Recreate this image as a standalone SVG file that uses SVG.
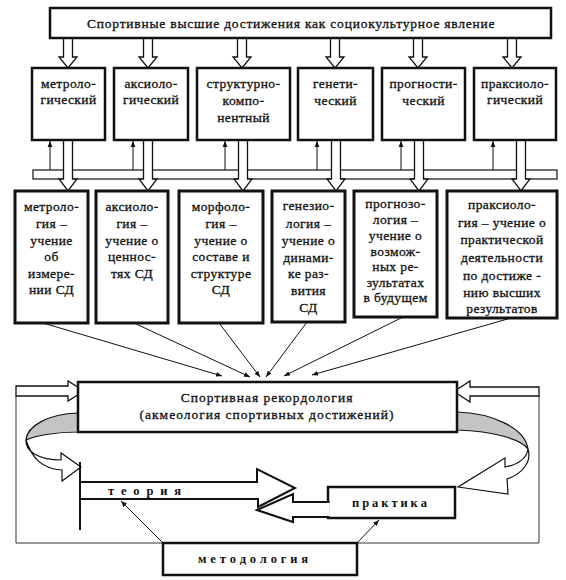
<svg xmlns="http://www.w3.org/2000/svg" width="566" height="580" viewBox="0 0 566 580">
<defs>
<style>
text{font-family:"Liberation Serif","Times New Roman",serif;fill:#111;}
.t{font-size:13.5px;letter-spacing:0.4px;text-anchor:middle;dominant-baseline:central;stroke:#111;stroke-width:0.3px;}
.b{font-weight:bold;font-size:12.5px;dominant-baseline:central;}
.box{fill:#fff;stroke:#111;stroke-width:2.5;}
.box2{fill:#fff;stroke:#111;stroke-width:3;}
.hollow{fill:#fff;stroke:#111;stroke-width:1.3;}
.thin{fill:none;stroke:#111;stroke-width:1;}
.frame{fill:none;stroke:#333;stroke-width:1;}
.big{fill:#fff;stroke:#111;stroke-width:2;}
.rib{fill:#fff;stroke:#111;stroke-width:1.2;}
.gray{fill:#c4c4c4;stroke:#111;stroke-width:1.2;}
</style>
<marker id="ah" viewBox="0 0 10 10" refX="10" refY="5" markerWidth="6" markerHeight="6" orient="auto" markerUnits="userSpaceOnUse">
<path d="M0,1 L10,5 L0,9 Z" fill="#111"/>
</marker>
</defs>

<g id="connectors">
  <path class="hollow" d="M63.5,38 V57 H59 L68,68 L77,57 H72.5 V38 Z"/>
  <path class="hollow" d="M143.5,38 V57 H139 L148,68 L157,57 H152.5 V38 Z"/>
  <path class="hollow" d="M237.5,38 V57 H233 L242,68 L251,57 H246.5 V38 Z"/>
  <path class="hollow" d="M330.5,38 V57 H326 L335,68 L344,57 H339.5 V38 Z"/>
  <path class="hollow" d="M413.5,38 V57 H409 L418,68 L427,57 H422.5 V38 Z"/>
  <path class="hollow" d="M507.5,38 V57 H503 L512,68 L521,57 H516.5 V38 Z"/>
  <rect x="33" y="170" width="524" height="9" fill="#fff" stroke="#111" stroke-width="1.2"/>
  <line class="thin" x1="50" y1="170" x2="50" y2="141" marker-end="url(#ah)"/>
  <line class="thin" x1="133" y1="170" x2="133" y2="141" marker-end="url(#ah)"/>
  <line class="thin" x1="225" y1="170" x2="225" y2="141" marker-end="url(#ah)"/>
  <line class="thin" x1="317" y1="170" x2="317" y2="141" marker-end="url(#ah)"/>
  <line class="thin" x1="401" y1="170" x2="401" y2="141" marker-end="url(#ah)"/>
  <line class="thin" x1="493" y1="170" x2="493" y2="141" marker-end="url(#ah)"/>
  <path class="hollow" d="M63.5,140 V179 H59 L68,191 L77,179 H72.5 V140 Z"/>
  <path class="hollow" d="M143.5,140 V179 H139 L148,191 L157,179 H152.5 V140 Z"/>
  <path class="hollow" d="M238.5,140 V179 H234 L243,191 L252,179 H247.5 V140 Z"/>
  <path class="hollow" d="M331.5,140 V179 H327 L336,191 L345,179 H340.5 V140 Z"/>
  <path class="hollow" d="M414.5,140 V179 H410 L419,191 L428,179 H423.5 V140 Z"/>
  <path class="hollow" d="M516.5,140 V179 H512 L521,191 L530,179 H525.5 V140 Z"/>
  <line class="thin" x1="43" y1="323" x2="222" y2="376" marker-end="url(#ah)"/>
  <line class="thin" x1="134" y1="323" x2="250" y2="377" marker-end="url(#ah)"/>
  <line class="thin" x1="219" y1="323" x2="260" y2="377" marker-end="url(#ah)"/>
  <line class="thin" x1="307" y1="322" x2="266" y2="377" marker-end="url(#ah)"/>
  <line class="thin" x1="403" y1="317" x2="284" y2="376" marker-end="url(#ah)"/>
  <line class="thin" x1="511" y1="318" x2="312" y2="375" marker-end="url(#ah)"/>
  <path class="frame" d="M16,396 V543 H539 V396"/>
  <path class="hollow" d="M16,386 H68 V381 L84,391 L68,401 V396 H16 Z"/>
  <path class="hollow" d="M539,387 H470 V381 L454,391.5 L470,402 V396 H539 Z"/>
  <path class="gray" d="M78,413 C48,414 27,426 26,440 C34,436 55,432 78,432 Z"/>
  <path class="rib" d="M26,440 C25,452 40,460 61,460 L61,453 L81,467 L62,481 L62,470 C42,469 32,458 26,440 Z"/>
  <path class="gray" d="M457,412 C490,413 525,427 528,449 C522,440 495,431 457,430 Z"/>
  <path class="rib" d="M528,449 C527,458 518,465 505,467 L505,458 L458,487 L508,494 L507,479 C522,474 532,462 528,449 Z"/>
  <line class="thin" x1="163" y1="543" x2="121" y2="501" marker-end="url(#ah)"/>
  <line class="thin" x1="357" y1="543" x2="379" y2="520" marker-end="url(#ah)"/>
</g>

<g id="top">
  <rect class="box" x="50" y="8" width="501" height="30"/>
  <text class="t" x="291" y="23" textLength="408" lengthAdjust="spacing">Спортивные высшие достижения как социокультурное явление</text>
</g>

<g id="r1-1"><rect class="box" x="32" y="68" width="73" height="72"/>
  <text class="t" x="68.5" y="83">метроло-</text><text class="t" x="68.5" y="99">гический</text></g>
<g id="r1-2"><rect class="box" x="114" y="68" width="74" height="72"/>
  <text class="t" x="151" y="83">аксиоло-</text><text class="t" x="151" y="99">гический</text></g>
<g id="r1-3"><rect class="box" x="197" y="68" width="93" height="72"/>
  <text class="t" x="243.5" y="83">структурно-</text><text class="t" x="243.5" y="100">компо-</text><text class="t" x="243.5" y="117">нентный</text></g>
<g id="r1-4"><rect class="box" x="298" y="68" width="75" height="72"/>
  <text class="t" x="335.5" y="83">генети-</text><text class="t" x="335.5" y="100">ческий</text></g>
<g id="r1-5"><rect class="box" x="382" y="68" width="83" height="72"/>
  <text class="t" x="423.5" y="83">прогности-</text><text class="t" x="423.5" y="100">ческий</text></g>
<g id="r1-6"><rect class="box" x="474" y="68" width="82" height="72"/>
  <text class="t" x="515" y="83">праксиоло-</text><text class="t" x="515" y="99">гический</text></g>

<g id="r2-1"><rect class="box2" x="15" y="191" width="73" height="132"/>
  <text class="t" x="51.5" y="206">метроло-</text><text class="t" x="51.5" y="223">гия –</text><text class="t" x="51.5" y="240">учение</text><text class="t" x="51.5" y="256">об</text><text class="t" x="51.5" y="273">измере-</text><text class="t" x="51.5" y="289">нии СД</text></g>
<g id="r2-2"><rect class="box2" x="96" y="191" width="72" height="132"/>
  <text class="t" x="132" y="206">аксиоло-</text><text class="t" x="132" y="223">гия –</text><text class="t" x="132" y="240">учение о</text><text class="t" x="132" y="256">ценнос-</text><text class="t" x="132" y="273">тях СД</text></g>
<g id="r2-3"><rect class="box2" x="179" y="191" width="84" height="132"/>
  <text class="t" x="221" y="206">морфоло-</text><text class="t" x="221" y="223">гия –</text><text class="t" x="221" y="240">учение о</text><text class="t" x="221" y="256">составе и</text><text class="t" x="221" y="273">структуре</text><text class="t" x="221" y="289">СД</text></g>
<g id="r2-4"><rect class="box2" x="272" y="191" width="73" height="131"/>
  <text class="t" x="308.5" y="205">генезио-</text><text class="t" x="308.5" y="223">логия –</text><text class="t" x="308.5" y="240">учение о</text><text class="t" x="308.5" y="257">динами-</text><text class="t" x="308.5" y="273">ке раз-</text><text class="t" x="308.5" y="290">вития</text><text class="t" x="308.5" y="307">СД</text></g>
<g id="r2-5"><rect class="box2" x="354" y="191" width="83" height="126"/>
  <text class="t" x="395.5" y="203">прогнозо-</text><text class="t" x="395.5" y="219">логия –</text><text class="t" x="395.5" y="235">учение о</text><text class="t" x="395.5" y="251">возмож-</text><text class="t" x="395.5" y="266">ных ре-</text><text class="t" x="395.5" y="282">зультатах</text><text class="t" x="395.5" y="297">в будущем</text></g>
<g id="r2-6"><rect class="box2" x="447" y="191" width="110" height="127"/>
  <text class="t" x="502" y="204">праксиоло-</text><text class="t" x="502" y="222">гия – учение о</text><text class="t" x="502" y="239">практической</text><text class="t" x="502" y="257">деятельности</text><text class="t" x="502" y="275">по достиже -</text><text class="t" x="502" y="292">нию высших</text><text class="t" x="502" y="308">результатов</text></g>

<g id="rekord"><rect class="box" x="78" y="382" width="379" height="50"/>
  <text class="t" x="267" y="397" style="letter-spacing:1px">Спортивная рекордология</text>
  <text class="t" x="267" y="414" style="letter-spacing:1px">(акмеология спортивных достижений)</text></g>

<g id="teoria">
  <path class="big" d="M80,482 H257 V469 L295,488 L258,507 V499 H80"/>
  <line x1="80" y1="462" x2="80" y2="530" stroke="#111" stroke-width="2"/>
  <text class="b" x="108" y="491" textLength="73" lengthAdjust="spacing">т е о р и я</text>
</g>
<g id="praktika">
  <rect class="box" x="328" y="487" width="127" height="31"/>
  <path class="big" d="M329.5,502 H293 V494 L257,510 L293,522 V517 H329.5"/>
  <text class="b" x="352" y="503" textLength="75" lengthAdjust="spacing">п р а к т и к а</text>
</g>
<g id="metod">
  <rect class="box" x="163" y="543" width="194" height="32"/>
  <text class="b" x="198" y="559" textLength="110" lengthAdjust="spacing">м е т о д о л о г и я</text>
</g>
</svg>
